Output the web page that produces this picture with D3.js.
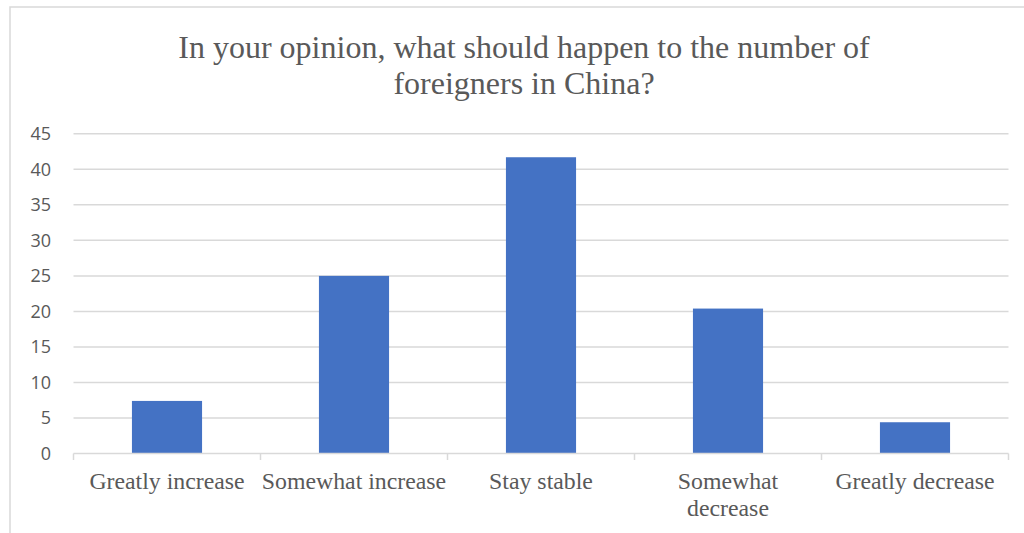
<!DOCTYPE html>
<html>
<head>
<meta charset="utf-8">
<script src="https://cdn.jsdelivr.net/npm/d3@7"></script>
<style>
  html, body { margin: 0; padding: 0; background: #fff; }
  svg { display: block; }
</style>
</head>
<body>
<svg id="chart" width="1024" height="533"></svg>
<script>
// Survey answers and their shares (%)
const categories = ["Greatly increase", "Somewhat increase", "Stay stable", "Somewhat decrease", "Greatly decrease"];
const categoryLines = [["Greatly increase"], ["Somewhat increase"], ["Stay stable"], ["Somewhat", "decrease"], ["Greatly decrease"]];
const values = [7.4, 25.0, 41.7, 20.4, 4.4];
const yTicks = [0, 5, 10, 15, 20, 25, 30, 35, 40, 45];
const titleLines = ["In your opinion, what should happen to the number of", "foreigners in China?"];

const svg = d3.select("#chart");
const W = 1024, H = 533;
const plot = { left: 73.5, right: 1008.5, top: 133.8, bottom: 453.5 };

// chart frame
svg.append("path")
  .attr("d", `M10,${H} V7 H${W}`)
  .attr("fill", "none")
  .attr("stroke", "#d9d9d9")
  .attr("stroke-width", 1.5);

const x = d3.scaleBand()
  .domain(categories)
  .range([plot.left, plot.right])
  .paddingInner(0.625)
  .paddingOuter(0.3125);

const y = d3.scaleLinear()
  .domain([0, 45])
  .range([plot.bottom, plot.top]);

// horizontal gridlines
svg.append("g")
  .selectAll("line")
  .data(yTicks.filter(d => d > 0))
  .join("line")
  .attr("x1", plot.left)
  .attr("x2", plot.right)
  .attr("y1", d => y(d))
  .attr("y2", d => y(d))
  .attr("stroke", "#d9d9d9")
  .attr("stroke-width", 1.5);

// y axis labels
const yAxis = d3.axisLeft(y).tickValues(yTicks).tickSize(0).tickPadding(0);
svg.append("g")
  .attr("transform", "translate(51,0)")
  .call(yAxis)
  .call(g => g.select(".domain").remove())
  .call(g => g.selectAll("text")
    .attr("font-family", "'Open Sans', sans-serif")
    .attr("font-size", 18)
    .attr("fill", "#595959"));

// bars
svg.append("g")
  .selectAll("rect")
  .data(values)
  .join("rect")
  .attr("x", (d, i) => x(categories[i]))
  .attr("width", x.bandwidth())
  .attr("y", d => y(d))
  .attr("height", d => y(0) - y(d))
  .attr("fill", "#4472C4");

// category axis line with boundary ticks
const step = x.step();
const boundaries = d3.range(categories.length + 1).map(i => plot.left + i * step);
const xg = svg.append("g");
xg.append("line")
  .attr("x1", plot.left).attr("x2", plot.right)
  .attr("y1", plot.bottom).attr("y2", plot.bottom)
  .attr("stroke", "#d9d9d9").attr("stroke-width", 1.5);
xg.selectAll("line.tick")
  .data(boundaries)
  .join("line")
  .attr("class", "tick")
  .attr("x1", d => d).attr("x2", d => d)
  .attr("y1", plot.bottom).attr("y2", plot.bottom + 6.5)
  .attr("stroke", "#d9d9d9").attr("stroke-width", 1.5);

// category labels
const labels = xg.selectAll("text.cat")
  .data(categoryLines)
  .join("text")
  .attr("class", "cat")
  .attr("x", (d, i) => x(categories[i]) + x.bandwidth() / 2)
  .attr("y", 489)
  .attr("text-anchor", "middle")
  .attr("font-family", "'Liberation Serif', 'Times New Roman', serif")
  .attr("font-size", 23.8)
  .attr("fill", "#595959");
labels.selectAll("tspan")
  .data(d => d)
  .join("tspan")
  .attr("x", function() { return d3.select(this.parentNode).attr("x"); })
  .attr("dy", (d, i) => i === 0 ? 0 : 27)
  .text(d => d);

// title
svg.append("text")
  .attr("x", 524)
  .attr("y", 57.5)
  .attr("text-anchor", "middle")
  .attr("font-family", "'Liberation Serif', 'Times New Roman', serif")
  .attr("font-size", 32)
  .attr("fill", "#595959")
  .selectAll("tspan")
  .data(titleLines)
  .join("tspan")
  .attr("x", 524)
  .attr("dy", (d, i) => i === 0 ? 0 : 36.5)
  .text(d => d);
</script>
</body>
</html>
